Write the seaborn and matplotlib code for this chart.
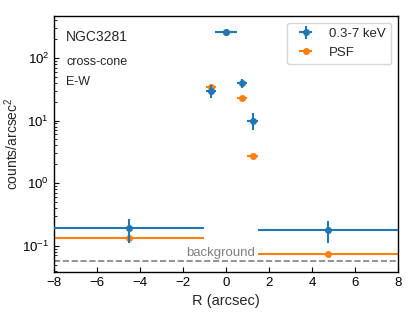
import numpy as np
import matplotlib
matplotlib.use("Agg")
import matplotlib.pyplot as plt
import seaborn as sns

# radial profile data
r_data = [-4.5, -0.7, 0.0, 0.75, 1.25, 4.75]
r_err = [3.5, 0.25, 0.5, 0.25, 0.25, 3.25]
counts = [0.19, 30.0, 260.0, 40.0, 10.0, 0.18]
counts_err = [0.08, 7.0, 15.0, 7.0, 3.0, 0.07]

r_psf = [-4.5, -0.7, 0.0, 0.75, 1.25, 4.75]
r_psf_err = [3.5, 0.25, 0.5, 0.25, 0.25, 3.25]
psf = [0.133, 35.0, 263.0, 23.0, 2.7, 0.074]

background = 0.057

sns.set_theme(style="ticks", rc={
    "axes.edgecolor": "black",
    "axes.linewidth": 1.0,
    "xtick.major.size": 3.5, "ytick.major.size": 3.5,
    "xtick.minor.size": 2.0, "ytick.minor.size": 2.0,
    "xtick.major.width": 0.8, "ytick.major.width": 0.8,
    "ytick.minor.width": 0.6,
    "xtick.color": "black", "ytick.color": "black",
})
plt.rcParams["font.family"] = ["Liberation Sans", "DejaVu Sans"]
plt.rcParams["mathtext.fontset"] = "custom"
plt.rcParams["mathtext.rm"] = "Liberation Sans"

fig = plt.figure(figsize=(4.09, 3.13), dpi=100)
ax = fig.add_axes([0.132, 0.131, 0.841, 0.818])

c_blue = sns.color_palette("tab10")[0]
c_orange = sns.color_palette("tab10")[1]

ax.errorbar(r_psf, psf, xerr=r_psf_err, fmt="o", color=c_orange, ms=4,
            elinewidth=1.5, label="PSF", zorder=2)
ax.errorbar(r_data, counts, xerr=r_err, yerr=counts_err, fmt="o", color=c_blue,
            ms=4, elinewidth=1.5, label="0.3-7 keV", zorder=3)

ax.axhline(background, color="gray", ls="--", lw=1.2, zorder=1)
ax.text(1.35, background * 1.08, "background", color="gray", fontsize=9.5,
        ha="right", va="bottom")

ax.set_yscale("log")
ax.set_xlim(-8, 8)
ax.set_ylim(0.038, 470)
ax.set_xticks(np.arange(-8, 9, 2))
ax.set_xlabel("R (arcsec)", fontsize=10.5)
ax.set_ylabel("counts/arcsec$^2$", fontsize=10, labelpad=1)
ax.tick_params(direction="in", which="both", labelsize=9.5)

ax.text(0.035, 0.945, "NGC3281", transform=ax.transAxes, fontsize=10, va="top")
ax.text(0.035, 0.845, "cross-cone", transform=ax.transAxes, fontsize=9, va="top")
ax.text(0.035, 0.765, "E-W", transform=ax.transAxes, fontsize=9, va="top")

handles, labels = ax.get_legend_handles_labels()
ax.legend(handles[::-1], labels[::-1], loc="upper right", fontsize=9.5)

fig.savefig("out.png", dpi=100)
